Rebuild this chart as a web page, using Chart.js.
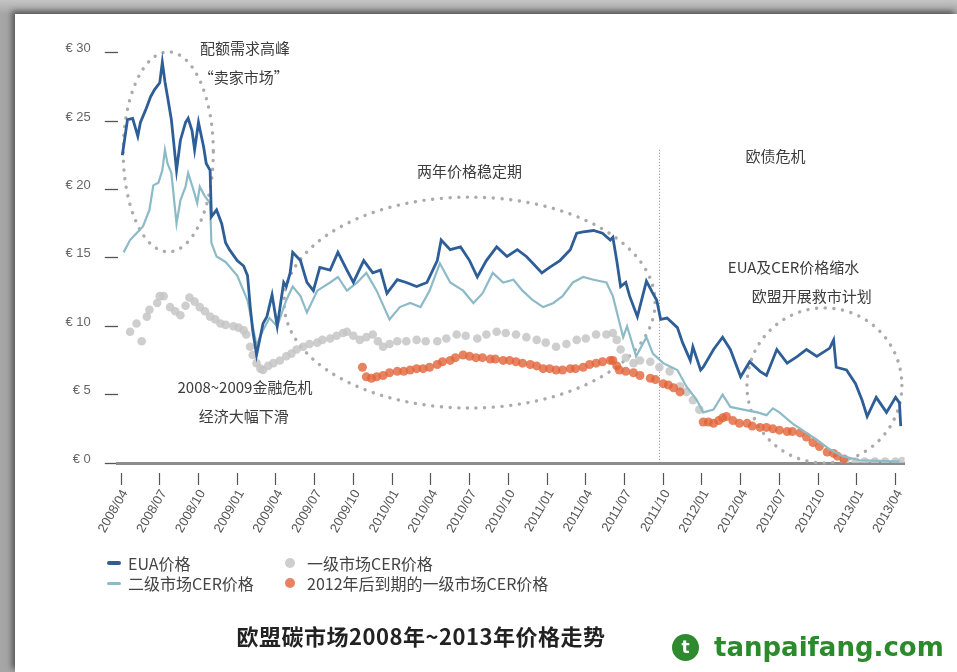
<!DOCTYPE html>
<html lang="zh-CN">
<head>
<meta charset="utf-8">
<title>欧盟碳市场2008年~2013年价格走势</title>
<script src="https://cdn.jsdelivr.net/npm/chart.js@4.4.1/dist/chart.umd.min.js"></script>
<style>
  html, body { margin: 0; padding: 0; }
  body {
    width: 957px; height: 672px; overflow: hidden; position: relative;
    background: linear-gradient(180deg, #c4c4c4 0px, #a6a6a6 14px);
    font-family: "Noto Sans CJK SC", "Noto Sans", sans-serif;
  }
  .sheet {
    position: absolute; left: 15px; top: 14px; right: 0; bottom: 0;
    background: #fff;
    box-shadow: -3px -3px 6px rgba(0, 0, 0, 0.5);
  }
  #chartBox { position: absolute; left: 0; top: 0; width: 957px; height: 672px; }
  .lg-item { position: absolute; height: 20px; line-height: 20px; font-size: 16px; color: #444; white-space: nowrap; }
  .lg-mark { position: absolute; }
  .title {
    position: absolute; left: 0; width: 842px; top: 619px; text-align: center;
    font-size: 22px; font-weight: bold; color: #222; letter-spacing: 0.5px;
  }
  .logo { position: absolute; left: 672px; top: 633px; height: 30px; }
  .logo .icon {
    position: absolute; left: 0; top: 1px; width: 27px; height: 27px; border-radius: 50%;
    background: #2f8a2f; color: #fff; font: bold 17px "DejaVu Sans", sans-serif;
    text-align: center; line-height: 27px;
  }
  .logo .name {
    position: absolute; left: 42px; top: -1px; line-height: 30px;
    font: bold 26px "DejaVu Sans", sans-serif; color: #2b8a2b; white-space: nowrap;
  }
</style>
</head>
<body>
<div class="sheet"></div>
<div id="chartBox"><canvas id="carbonChart" width="957" height="672"></canvas></div>
<div id="legendBox"></div>
<div class="title">欧盟碳市场2008年~2013年价格走势</div>
<div class="logo"><div class="icon">t</div><div class="name">tanpaifang.com</div></div>

<script>
// x 轴：从 2008/04 起算的月数；y 轴：欧元
const quarterLabels = [
  '2008/04', '2008/07', '2008/10', '2009/01', '2009/04', '2009/07', '2009/10',
  '2010/01', '2010/04', '2010/07', '2010/10', '2011/01', '2011/04', '2011/07',
  '2011/10', '2012/01', '2012/04', '2012/07', '2012/10', '2013/01', '2013/04'
];
const priceTicks = [0, 5, 10, 15, 20, 25, 30];

// EUA价格 [月, €]
const euaPrice = [
  [0.1,22.5],[0.5,25.1],[0.9,25.2],[1.3,23.9],[1.5,24.9],[1.9,25.8],[2.3,26.8],[2.6,27.3],[3.0,27.8],[3.2,29.3],
  [3.4,27.9],[3.6,26.8],[3.9,25.1],[4.3,21.4],[4.6,23.6],[5.0,24.9],[5.2,25.2],[5.5,24.3],[5.7,22.9],[6.0,24.9],
  [6.4,23.1],[6.6,21.9],[6.9,21.4],[7.0,18.0],[7.4,18.5],[7.8,17.5],[8.1,16.1],[8.4,15.6],[9.0,14.8],[9.5,14.4],
  [9.8,13.7],[10.0,11.5],[10.2,9.7],[10.5,7.9],[11.0,10.2],[11.3,10.7],[11.7,12.3],[12.1,10.0],[12.6,13.2],[12.8,12.9],
  [13.1,13.9],[13.3,15.4],[13.9,14.8],[14.4,13.2],[14.9,12.6],[15.4,14.3],[16.2,14.1],[16.8,15.4],[17.5,14.1],[18.0,13.2],
  [18.8,14.8],[19.5,13.9],[20.1,14.1],[20.6,12.4],[21.4,13.4],[22.1,13.2],[22.9,12.9],[23.7,13.2],[24.5,14.8],[24.8,16.3],
  [25.5,15.6],[26.3,15.8],[27.0,14.8],[27.6,13.6],[28.3,14.8],[29.1,15.8],[29.9,15.1],[30.7,15.6],[31.4,15.1],[31.9,14.6],
  [32.6,13.9],[33.2,14.3],[34.0,14.8],[34.8,15.6],[35.3,16.8],[35.8,16.9],[36.6,17.0],[37.3,16.8],[37.9,16.3],[38.1,16.5],
  [38.4,14.8],[38.7,12.9],[39.1,13.2],[39.4,12.2],[40.0,10.7],[40.7,13.3],[41.2,12.4],[41.5,11.9],[41.8,10.5],[42.3,10.6],
  [43.1,9.9],[43.5,8.8],[44.1,7.5],[44.3,8.5],[44.9,6.8],[45.1,7.0],[45.9,8.3],[46.6,9.2],[47.2,8.3],[48.0,6.3],
  [48.7,7.4],[49.5,6.7],[50.0,6.4],[50.8,8.3],[51.6,7.3],[52.4,7.8],[53.1,8.3],[53.9,7.8],[54.9,8.4],[55.2,9.0],
  [55.4,7.0],[56.2,6.8],[56.9,5.8],[57.4,4.6],[57.8,3.4],[58.5,4.8],[59.3,3.7],[60.0,4.8],[60.3,4.4],[60.4,2.7]
];

// 二级市场CER价格
const cerSecondary = [
  [0.2,15.4],[0.7,16.3],[1.2,16.8],[1.7,17.3],[2.2,18.5],[2.5,20.3],[2.9,20.5],[3.2,21.4],[3.4,22.9],[3.6,21.9],
  [3.9,21.2],[4.3,17.5],[4.6,19.2],[5.0,20.2],[5.2,21.2],[5.6,20.0],[5.9,19.0],[6.1,20.2],[6.5,19.5],[6.9,19.0],
  [7.0,16.1],[7.4,15.1],[8.1,14.7],[9.0,13.7],[9.8,11.9],[10.5,8.6],[11.0,9.7],[11.5,10.6],[12.1,10.0],[12.8,11.9],
  [13.3,12.9],[13.9,12.2],[14.4,11.0],[15.2,12.6],[16.2,13.2],[16.8,13.6],[17.5,12.6],[18.3,13.2],[19.0,13.9],[19.8,12.6],
  [20.8,10.5],[21.6,11.4],[22.4,11.7],[23.2,11.4],[23.9,12.6],[24.7,14.6],[25.5,13.2],[26.5,12.6],[27.3,11.7],[28.0,12.4],
  [28.8,13.9],[29.6,13.2],[30.4,13.4],[31.1,12.6],[31.9,11.9],[32.7,11.4],[33.5,11.7],[34.2,12.2],[35.0,13.2],[35.8,13.6],
  [36.6,13.4],[37.6,13.2],[38.1,12.2],[38.5,10.7],[38.9,9.2],[39.2,10.0],[39.9,7.8],[40.7,9.2],[41.2,8.0],[42.0,7.3],
  [43.1,6.8],[43.8,5.6],[44.6,4.6],[45.1,3.7],[45.9,3.9],[46.6,5.0],[47.2,4.1],[48.2,3.9],[49.3,3.7],[50.0,3.5],
  [50.5,4.0],[51.0,3.7],[52.0,2.9],[53.1,2.2],[53.9,1.7],[54.9,1.0],[55.9,0.5],[57.2,0.2],[58.8,0.15],[60.3,0.1]
];

// 一级市场CER价格
const cerPrimary = [
  [0.7,9.6],[1.2,10.2],[1.6,8.9],[2.0,10.7],[2.2,11.2],[2.8,11.7],[3.0,12.2],[3.3,12.2],[3.8,11.4],[4.2,11.1],
  [4.6,10.8],[5.0,11.5],[5.3,12.1],[5.7,11.8],[6.1,11.4],[6.5,11.1],[6.9,10.7],[7.3,10.5],[7.7,10.2],[8.1,10.1],
  [8.7,10.0],[9.1,9.9],[9.5,9.7],[9.7,9.4],[10.0,8.5],[10.2,7.9],[10.5,7.3],[10.8,6.9],[11.0,6.8],[11.4,7.1],
  [11.8,7.3],[12.3,7.5],[12.8,7.8],[13.2,8.0],[13.6,8.3],[14.1,8.5],[14.6,8.7],[15.2,8.8],[15.6,9.0],[16.2,9.1],
  [16.7,9.3],[17.2,9.5],[17.5,9.6],[18.0,9.3],[18.5,9.0],[19.0,9.2],[19.5,9.4],[19.9,8.9],[20.3,8.5],[20.8,8.7],
  [21.4,8.9],[22.1,8.9],[22.9,9.0],[23.6,8.9],[24.5,8.9],[25.2,9.1],[26.0,9.4],[26.7,9.3],[27.6,9.1],[28.3,9.4],
  [29.1,9.6],[29.8,9.5],[30.6,9.4],[31.4,9.2],[32.2,9.0],[32.9,8.8],[33.7,8.5],[34.5,8.7],[35.3,9.0],[36.0,9.1],
  [36.8,9.4],[37.6,9.4],[38.1,9.5],[38.4,9.0],[38.7,8.3],[39.1,7.7],[39.7,7.3],[40.2,7.5],[41.0,7.4],[41.7,7.0],
  [42.5,6.7],[43.3,5.6],[43.8,5.2],[44.3,4.6],[44.8,3.9],
  [56.1,0.1],[56.9,0.1],[57.6,0.1],[58.4,0.1],[59.2,0.1],[60.0,0.1],[60.5,0.15]
];

// 2012年后到期的一级市场CER价格
const cerPrimary2012 = [
  [18.7,7.0],[19.0,6.3],[19.4,6.2],[19.8,6.3],[20.3,6.4],[20.8,6.6],[21.4,6.7],[21.9,6.7],[22.4,6.8],[22.9,6.9],
  [23.4,6.9],[23.9,7.0],[24.5,7.2],[24.9,7.4],[25.5,7.5],[25.9,7.7],[26.5,7.9],[27.0,7.8],[27.5,7.7],[28.0,7.7],
  [28.6,7.6],[29.0,7.6],[29.6,7.5],[30.1,7.5],[30.6,7.4],[31.1,7.3],[31.7,7.2],[32.2,7.1],[32.7,6.9],[33.2,6.9],
  [33.7,6.8],[34.2,6.8],[34.8,6.9],[35.2,6.9],[35.8,7.0],[36.3,7.2],[36.8,7.3],[37.3,7.4],[37.9,7.5],[38.1,7.5],
  [38.4,7.1],[38.6,6.8],[39.1,6.7],[39.7,6.6],[40.2,6.4],[41.0,6.2],[41.4,6.1],[42.0,5.8],[42.4,5.7],[42.8,5.5],
  [43.3,5.2],
  [45.1,3.0],[45.5,3.0],[45.9,2.9],[46.3,3.1],[46.6,3.3],[46.9,3.4],[47.4,3.1],[47.9,2.9],[48.5,2.9],[48.9,2.7],
  [49.5,2.6],[50.0,2.6],[50.5,2.5],[51.0,2.4],[51.6,2.3],[52.0,2.3],[52.6,2.2],[53.1,1.9],[53.6,1.5],[54.1,1.2],
  [54.7,0.8],[55.2,0.7],[55.5,0.5],[56.0,0.3]
];

// 图中注释文字（以月、欧元定位）
const notes = [
  { text: '配额需求高峰', m: 9.6, v: 30.3 },
  { text: '“卖家市场”', m: 9.5, v: 28.2 },
  { text: '两年价格稳定期', m: 27.0, v: 21.3 },
  { text: '欧债危机', m: 50.7, v: 22.4 },
  { text: 'EUA及CER价格缩水', m: 52.1, v: 14.3 },
  { text: '欧盟开展救市计划', m: 53.5, v: 12.2 },
  { text: '2008~2009金融危机', m: 9.6, v: 5.5 },
  { text: '经济大幅下滑', m: 9.5, v: 3.4 }
];
// 虚线圈：中心与半径（月、欧元）
const rings = [
  { m: 3.66, v: 22.75, rm: 3.49, rv: 7.31 },
  { m: 27.0, v: 11.73, rm: 14.37, rv: 7.71 },
  { m: 54.49, v: 5.67, rm: 6.0, rv: 5.67 }
];
const debtCrisisMonth = 41.7;
const debtCrisisTop = 22.9;

const toPoints = arr => arr.map(p => ({ x: p[0], y: p[1] }));

Chart.defaults.font.family = '"Liberation Sans", Arial, sans-serif';

const notesLayer = {
  id: 'notesLayer',
  beforeDatasetsDraw(chart) {
    const { ctx, scales: { x, y } } = chart;
    ctx.save();
    // 欧债危机分界线
    ctx.strokeStyle = '#8a8a8a';
    ctx.lineWidth = 1;
    ctx.setLineDash([1, 2]);
    const lx = Math.round(x.getPixelForValue(debtCrisisMonth)) + 0.5;
    ctx.beginPath();
    ctx.moveTo(lx, y.getPixelForValue(debtCrisisTop));
    ctx.lineTo(lx, y.getPixelForValue(0));
    ctx.stroke();

    // 点状椭圆
    ctx.strokeStyle = '#ababab';
    ctx.lineWidth = 3.4;
    ctx.lineCap = 'round';
    ctx.setLineDash([0.1, 8.6]);
    rings.forEach(r => {
      const cx = x.getPixelForValue(r.m);
      const cy = y.getPixelForValue(r.v);
      const rx = x.getPixelForValue(r.m + r.rm) - cx;
      const ry = cy - y.getPixelForValue(r.v + r.rv);
      ctx.beginPath();
      ctx.ellipse(cx, cy, rx, ry, 0, 0, Math.PI * 2);
      ctx.stroke();
    });
    ctx.restore();
  },
  afterDatasetsDraw(chart) {
    const { ctx, scales: { x, y } } = chart;
    ctx.save();
    ctx.font = '15px "Noto Sans CJK SC", sans-serif';
    ctx.fillStyle = '#3c3c3c';
    ctx.textAlign = 'center';
    ctx.textBaseline = 'middle';
    notes.forEach(n => ctx.fillText(n.text, x.getPixelForValue(n.m), y.getPixelForValue(n.v)));
    ctx.restore();
  }
};

const chart = new Chart(document.getElementById('carbonChart'), {
  type: 'line',
  data: {
    datasets: [
      {
        label: 'EUA价格',
        data: toPoints(euaPrice),
        borderColor: '#2e5e97',
        borderWidth: 2.8,
        pointRadius: 0,
        tension: 0
      },
      {
        label: '二级市场CER价格',
        data: toPoints(cerSecondary),
        borderColor: '#8dbac7',
        borderWidth: 2.2,
        pointRadius: 0,
        tension: 0
      },
      {
        label: '2012年后到期的一级市场CER价格',
        data: toPoints(cerPrimary2012),
        showLine: false,
        pointRadius: 4.5,
        pointBorderWidth: 0,
        backgroundColor: 'rgba(225, 100, 56, 0.8)',
        borderColor: 'rgba(225, 100, 56, 0.8)'
      },
      {
        label: '一级市场CER价格',
        data: toPoints(cerPrimary),
        showLine: false,
        pointRadius: 4.3,
        pointBorderWidth: 0,
        backgroundColor: 'rgba(198, 198, 198, 0.85)',
        borderColor: 'rgba(198, 198, 198, 0.85)'
      }
    ]
  },
  options: {
    responsive: false,
    animation: false,
    events: [],
    layout: { padding: { left: 0, right: 52.4, top: 52.7, bottom: 129 } },
    plugins: { legend: { display: false }, tooltip: { enabled: false } },
    scales: {
      x: {
        type: 'linear',
        min: -0.25,
        max: 60.7,
        afterFit: s => { s.height = 80; },
        afterBuildTicks: s => { s.ticks = quarterLabels.map((_, i) => ({ value: i * 3 })); },
        ticks: {
          autoSkip: false,
          minRotation: 60,
          maxRotation: 60,
          padding: 2,
          labelOffset: 4,
          color: '#555',
          font: { size: 13 },
          callback: v => quarterLabels[Math.round(v / 3)]
        },
        grid: {
          drawOnChartArea: false,
          tickLength: 22,
          tickBorderDash: [0, 8, 14, 60],
          tickColor: '#555',
          tickWidth: 1.2
        },
        border: { display: true, color: '#8c8c8c', width: 3 }
      },
      y: {
        min: 0,
        max: 30,
        afterFit: s => { s.width = 117.8; },
        afterBuildTicks: s => { s.ticks = priceTicks.map(v => ({ value: v })); },
        ticks: {
          padding: 14,
          labelOffset: -4,
          color: '#666',
          font: { size: 13 },
          callback: v => '€ ' + v
        },
        grid: { drawOnChartArea: false, tickLength: 13, tickColor: '#555', tickWidth: 1.3 },
        border: { display: false }
      }
    }
  },
  plugins: [notesLayer]
});

// 两列图例：左列为折线，右列为散点
function buildLegend() {
  const box = document.getElementById('legendBox');
  const slots = {
    'EUA价格': { left: 107, top: 553 },
    '二级市场CER价格': { left: 107, top: 573 },
    '一级市场CER价格': { left: 285, top: 553 },
    '2012年后到期的一级市场CER价格': { left: 285, top: 573 }
  };
  chart.data.datasets.forEach(ds => {
    const slot = slots[ds.label];
    const item = document.createElement('div');
    item.className = 'lg-item';
    item.style.left = slot.left + 'px';
    item.style.top = slot.top + 'px';
    const mark = document.createElement('span');
    mark.className = 'lg-mark';
    if (ds.showLine === false) {
      mark.style.cssText = 'left:0;top:5px;width:10px;height:10px;border-radius:50%;background:' + ds.backgroundColor;
    } else {
      const h = ds.label === 'EUA价格' ? 4 : 3;
      mark.style.cssText = 'left:0;top:' + (10 - h / 2) + 'px;width:14px;height:' + h + 'px;border-radius:2px;background:' + ds.borderColor;
    }
    const label = document.createElement('span');
    label.style.cssText = 'position:absolute;left:' + (ds.showLine === false ? 22 : 21) + 'px;top:0';
    label.textContent = ds.label;
    item.appendChild(mark);
    item.appendChild(label);
    box.appendChild(item);
  });
}
buildLegend();
</script>
</body>
</html>
